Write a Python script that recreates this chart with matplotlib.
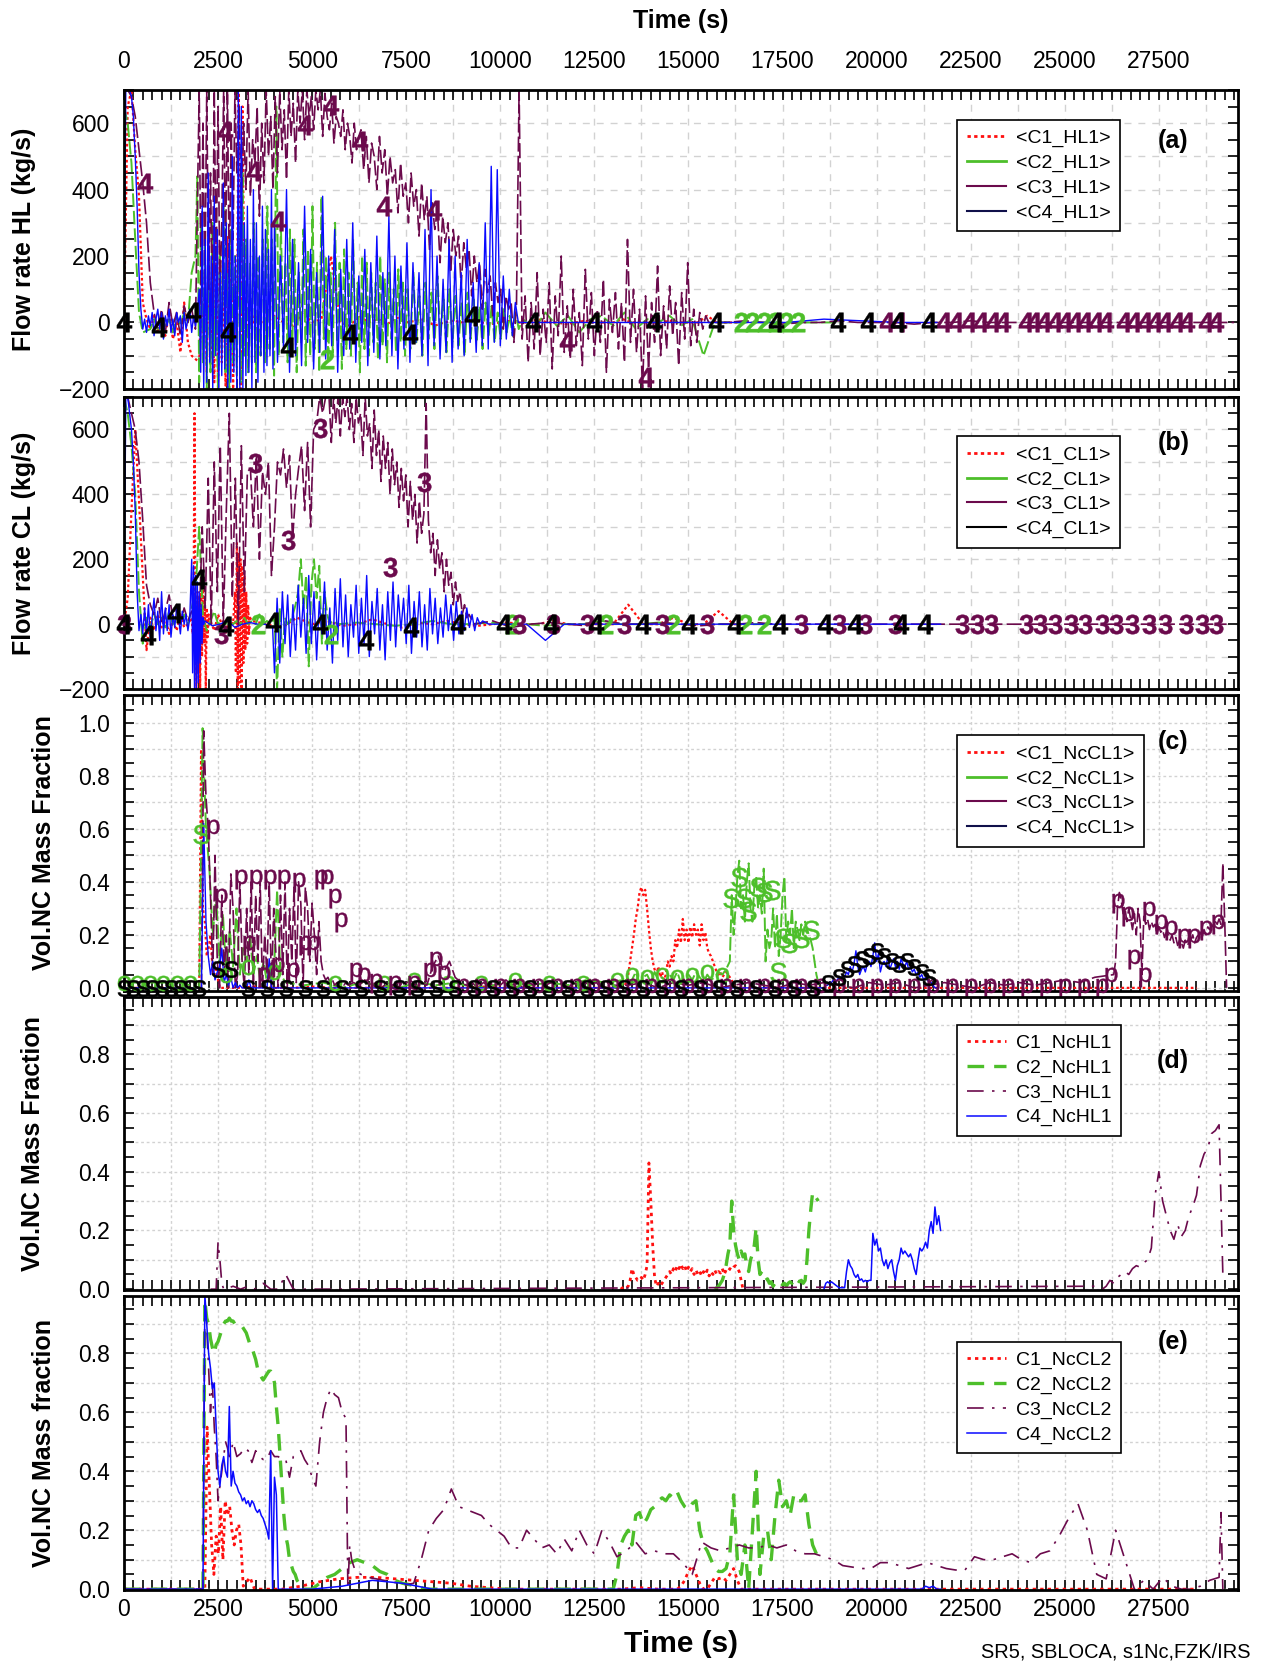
import numpy as np
import matplotlib.pyplot as plt
from matplotlib.lines import Line2D
from matplotlib.ticker import MultipleLocator, FuncFormatter

plt.rcParams['font.family'] = ['Liberation Sans', 'DejaVu Sans']
plt.rcParams['mathtext.fontset'] = 'custom'
plt.rcParams['mathtext.rm'] = 'Liberation Sans'
plt.rcParams['mathtext.bf'] = 'Liberation Sans:bold'

RED, GREEN, PURPLE, BLUE = '#ff1010', '#4dbf2a', '#6b0a4c', '#0a0aff'

# each record: (start time, sample step, sampled values)
# ---- (a) hot leg flow rate, kg/s
HL_C1 = [
    (0, 100, [0, 650, 700, 520, 380, 60, 10, -20, 20, -30, 10, -40, 30, -50, 0, -90, 60, -60, -100]),
    (2000, 50, [-120, 80, -60, 150, -150, 250, -100, 200, -180, 280, -200, 230, -120, 160, -190,
                260, -150, 200, -200, 120, -60, 700, -200, 650, 80, -40, 20, -10, 30, 0]),
    (3500, 250, [10, -5, 20, 0, -10, 30, 0, 10, 200, 0, -10, 20, 0, 10, -5, 15, 0, 5, 10, -10, 0, 5,
                 0, 10, 0, -5, 0, 5, 0, 0, 10, 0, 0, -5, 0, 5, 0, 0, 0, 10, 0, 0, 0, 0, 5, 0, 0, 0,
                 20, 0, 0, 0, 0]),
]
HL_C2 = [
    (0, 100, [650, 600, 480, 250, 30, -30, -25, -20, 10, -20, 20, -10, 10, -30, 20, -10, 30, 0, 150]),
    (1900, 50, [200, 440, -180, 300, -120, 250, -200, 180, -150, 300, -100, 120, -200, 220, -80, 350,
                -150, 150, -200, 280, -120, 200, -160, 300, -180, 450, -100, 250, -150, 180, -120]),
    (3450, 60, [300, -150, 200, -100, 250, -120, 350, -80, 250, -160,
                650, -100, 300, -60, 180, -120, 280, -90, 250, -150,
                150, -60, 280, -130, 220, -100, 350, -80, 180, -150,
                380, -50, 200, -120, 150, -90, 300, -60, 180, -140,
                220, -80, 150, -100, 250, -60, 120, -150, 200, -80,
                180, -100, 150, -60, 120, -110, 200, -70, 130, -120,
                150, -50, 100, -90, 160, -60, 120, -100]),
    (7530, 80, [100, -80, 150, -60, 80, -100, 120, -50, 90, -80, 140, -40, 70, -90, 100, -60, 80, -70,
                60, -100, 90, -50, 70, -60, 50, -80, 60, -40, 50, -60, 30, -50, 40, -30, 20, -40, 30, -20]),
    (10600, 300, [10, -20, 30, -10, 20, -30, 10, 20, -10, 30, -20, 10, 0, 20, -10, 10, -100, 0]),
    (16000, 500, [0, 0, 0, 0, 0, 0, 0]),
]
HL_C3 = [
    (0, 100, [700, 700, 680, 620, 520, 420, 300, 120, 30, -20, 40, -30, 60, -10, 30, -40, 50, 0, 40, -20]),
    (2000, 50, [700, 50, 600, 80, 700, 100, 450, 20, 700, 150, 650, 80, 300, 700, 200, 700, 120, 600, 250, 700]),
    (3000, 60, [450, 650, 350, 600, 400, 700, 380, 550, 480, 650,
                320, 600, 420, 700, 500, 620, 400, 680, 450, 700,
                520, 640, 430, 700, 560, 660, 480, 700, 600, 700,
                550, 700, 620, 680, 580, 700, 640, 700, 560, 690,
                620, 580, 660, 540, 620, 600, 560, 640, 520, 600,
                560, 480, 600, 520, 560]),
    (6300, 70, [580, 460, 560, 420, 540, 500, 400, 560, 450, 520,
                380, 500, 420, 460, 330, 480, 380, 420, 300, 450,
                350, 400, 260, 420, 310, 380, 220, 360, 280, 340,
                180, 320, 240, 300, 150, 280, 200, 260, 110, 240,
                160, 220, 80, 200, 120, 180, 40, 160, 90, 140,
                20, 120, 60, 100, -20, 80, 40, 60, -60, 50]),
    (10500, 80, [700, -50, 80, -120, 60, -80, 150, -100, 40, -60,
                 120, -140, 80, -40, 200, -90, 50, -110, 100, -70,
                 30, -130, 160, -50, 90, -100, 40, -60, 130, -150,
                 70, -30, 90, -80, 60, -120, 250, -60, 100, -90,
                 40, -200, 80, -140, 60, -60, 170, -100, 50, -80,
                 110, -40, 60, -130, 90, -50, 180, -70, 40, -60,
                 30, -20, 20, 0]),
    (16000, 500, [0, 5, 0, -5, 0, 0, 5, 0, 0, 0, -5, 0, 0, 5, 0, 0, 0, 0, 0, 0, 0, 0, 0, 0, 0, 0, 0, 0]),
]
HL_C4 = [
    (0, 50, [0, 700, 700, 700, 680, 620, 500, 350, 150, 40, -20, 10]),
    (600, 50, [-30, 20, -10, 30, -40, 10, 40, -20, 30, -50, 20, -10, 40, -30, 10, -40, 30, 0, 20, -60,
               30, -20, 10, 40, -30, 20, -10, 30]),
    (2000, 40, [100, -150, 350, -200, 250, -180, 450, -120, 200, -200,
                380, -100, 280, -200, 150, -160, 420, -140, 300, -200,
                250, -180, 500, -150, 200, -200, 700, -200, 650, -200,
                300, -160, 350, -150, 250, -200, 400, -120, 300, -180,
                200, -100, 350, -150, 280, -130, 220, -100, 400, -140]),
    (4000, 80, [300, -120, 200, -80, 400, -150, 250, -100, 180, -130,
                350, -60, 220, -140, 150, -90, 380, -110, 200, -70,
                280, -150, 160, -100, 250, -80, 300, -120, 140, -60,
                220, -130, 180, -90, 260, -110, 150, -70, 320, -100,
                200, -140, 170, -80, 240, -120, 180, -60, 150, -100,
                280, -130, 400, -70, 200, -110, 130, -90, 250, -120,
                200, -80, 150, -100, 250, -60, 120, -90, 180, -70,
                300, -80, 470, -60, 460, -70, 140, -50, 100, -40,
                60, 0]),
    (10600, 1000, [0, 0, 0, 0, 0, 0, 0, 0, 10, 5, 0, 0]),
]

# ---- (b) cold leg flow rate, kg/s
CL_C1 = [
    (0, 100, [0, 80, 350, 600, 380, 150, -80, 20, -20, 30, -10, 20, -30, 10, -20, 30, -10, 0]),
    (1800, 25, [20, -30, 10, 650, 0, -200, 100, -150, 80, -200, 100, -100, 150, -60, 80, -200, 50, -40, 30, 0]),
    (2300, 100, [10, -20, 30, 0, -30, 20, 0]),
    (2950, 25, [100, -150, 250, -200, 220, -180, 200, -200, 180, -120, 150, -80, 100, -60, 60, -30, 20]),
    (3400, 400, [10, 0, -10, 20, 0, 10, -5, 0, 15, 0, -10, 5, 0, 10, 0, -5, 0, 5, 0, 0, 10, 0, 0, 0,
                 0, 60, 0, 0, 20, 0, 0, 40, 0, 0]),
]
CL_C2 = [
    (0, 100, [700, 650, 550, 400, 100, -60, 20, -10, 30, 0, 20, -10, 40, 0, 20, 10, 30, 0, 50, 100, 300, 20]),
    (2200, 100, [-20, 10, 40, 0, 10, 0, 20, 0, 10, 0, 20, 0, 10, 0, 30, 0, 10, 0, 20]),
    (4070, 70, [-200, 50, -100, 20, 0, 10, 30, 60, 100, 200, 50, 150, -130, 120, 200, 80, 180, -60,
                100, 30, 0, 10]),
    (5700, 500, [0, 5, 0, -5, 0, 10, 0, 0, 5, 0, 0, -5, 0, 0, 10, 0, 0, 5, 0, 0, 0, 0, 0, 0]),
]
CL_C3 = [
    (0, 100, [700, 700, 650, 600, 500, 320, 120, 60, 30, 80, 0, 40, 90, 20, 60, 0, 50, 10, 40, 20]),
    (2000, 80, [0, 300, 50, 450, 0, 500, 100, 550, 0, 350, 650, 80, 450, 0, 550, 100, 470, 480, 300, 520,
                200, 470, 400, 500, 150, 300, 500, 460, 540, 420, 520, 260, 400, 480, 550, 350, 560, 300,
                600, 620, 700, 650, 700]),
    (5450, 60, [700, 560, 700, 620, 700, 580, 700, 640, 700, 600,
                680, 560, 700, 620, 650, 520, 700, 580, 620, 480,
                660, 520, 600, 440, 580, 480, 560, 400, 540, 430,
                500, 360, 480, 380, 460, 300, 440, 320, 400, 250,
                380, 280, 340, 680, 320, 220, 280, 150, 260, 170,
                220, 100, 200, 120, 160, 60, 130, 70, 100, 30,
                60, 20, 30]),
    (9300, 500, [0, 10, -10, 0, 5, 0, -5, 10, 0, 0, 5, 0, -5, 0, 0, 5, 0, 0, 0, 0, 0, 0, 0, 0, 0, 0,
                 0, 0, 0, 0, 0, 0, 0, 0, 0, 0, 0, 0, 0, 0, 0]),
]
CL_C4 = [
    (0, 50, [0, 700, 700, 650, 600, 500, 350, 100, -20, 30, -30]),
    (550, 50, [50, -30, 60, -40, 20, 80, -20, 40, -50, 100, -30, 50, -20, 60, -40, 30, -10, 50, 20, -30,
               40, 0, 30, -20, 20]),
    (1800, 25, [200, -150, 180, -200, 150, -200, 130, -180, 100, -120, 60, -60, 20, 0]),
    (2150, 200, [10, -5, 0, 10, -10, 0, 5, 0, 0, -10]),
    (4000, 70, [-150, 80, -120, 100, -60, 90, -100, 60, -80, 120,
                -40, 80, -90, 150, -60, 100, -110, 70, -30, 130,
                -80, 50, -120, 110, -50, 140, -70, 90, -100, 60,
                -40, 120, -90, 80, -60, 150, -100, 70, -30, 110,
                -80, 60, -110, 100, -50, 130, -70, 90, -20, 80,
                -60, 120, -90, 70, -40, 100, -70, 60, -80, 110,
                -30, 80, -60, 50, -40, 90, -20, 60, -50, 70,
                -30, 40, -20, 50, -10, 30, -20, 20, 0, 10]),
    (9700, 500, [0, 0, 0, -50, 0, 0, 0, 0, 0, 0, 0, 0, 0, 0, 0, 0, 0, 0, 0, 0, 0, 0, 0, 0, 0]),
]

# ---- (c) non-condensable fraction, cold leg 1
NCCL1_C1 = [
    (0, 500, [0.0, 0.0, 0.0, 0.0, 0.0]),
    (2050, 50, [0.9, 0.3, 0.25, 0.12, 0.15, 0.2, 0.08, 0.05, 0.08, 0.03, 0.0]),
    (3000, 500, [0.0, 0.005, 0.0, 0.0, 0.005, 0.0, 0.0, 0.0, 0.005, 0.0, 0.0, 0.0, 0.0, 0.005, 0.0,
                 0.0, 0.0, 0.0, 0.0, 0.0, 0.0]),
    (13200, 50, [0.0, 0.0, 0.01, 0.02, 0.05, 0.1, 0.15, 0.2, 0.26, 0.3,
                 0.36, 0.38, 0.35, 0.37, 0.3, 0.22, 0.15, 0.1, 0.07, 0.05,
                 0.08, 0.04, 0.06, 0.03, 0.05, 0.1, 0.08, 0.12, 0.1, 0.18,
                 0.15, 0.22, 0.17, 0.26, 0.18, 0.22, 0.17, 0.23, 0.19, 0.24,
                 0.2, 0.22, 0.16, 0.24, 0.18, 0.21, 0.15, 0.13, 0.12, 0.1,
                 0.08, 0.06, 0.05, 0.06, 0.04, 0.05, 0.06, 0.05, 0.04, 0.03,
                 0.01, 0.0]),
    (16500, 1000, [0.0, 0.0, 0.0, 0.0, 0.0, 0.0, 0.0, 0.0, 0.0, 0.0, 0.0, 0.0, 0.0]),
]
NCCL1_C2 = [
    (0, 500, [0.02, 0.02, 0.02, 0.02]),
    (2000, 90, [0.0, 0.98, 0.6, 0.45, 0.2, 0.35, 0.1, 0.28, 0.05, 0.22, 0.08, 0.3, 0.05, 0.15, 0.1,
                0.2, 0.05, 0.12, 0.03, 0.1, 0.02, 0.08, 0.03, 0.37, 0.05]),
    (4300, 500, [0.02, 0.01, 0.02, 0.0, 0.02, 0.01, 0.0, 0.02, 0.01, 0.02, 0.0, 0.01, 0.02, 0.01, 0.02,
                 0.01, 0.03, 0.02, 0.03]),
    (13500, 100, [0.03, 0.06, 0.02, 0.04, 0.05, 0.02, 0.06, 0.03, 0.04, 0.02, 0.05, 0.03, 0.06, 0.02,
                  0.04, 0.05, 0.03, 0.06, 0.04, 0.02, 0.05, 0.03, 0.04, 0.06, 0.05, 0.07]),
    (16100, 50, [0.1, 0.35, 0.2, 0.3, 0.42, 0.48, 0.3, 0.35, 0.25, 0.4, 0.47, 0.3, 0.25, 0.38, 0.42,
                 0.3, 0.35, 0.28, 0.45, 0.1, 0.22, 0.15, 0.18, 0.3, 0.15, 0.28, 0.12, 0.2, 0.35, 0.42,
                 0.18, 0.25, 0.2, 0.3, 0.15, 0.25, 0.22, 0.18, 0.24, 0.2, 0.25, 0.22, 0.2, 0.18, 0.15,
                 0.1, 0.05, 0.02, 0.0, 0.0, 0.0]),
]
NCCL1_C3 = [
    (0, 500, [0.0, 0.0, 0.0, 0.0]),
    (2000, 60, [0.0, 0.0, 0.97, 0.72, 0.6, 0.35, 0.05, 0.5, 0.1, 0.0, 0.35, 0.05, 0.2, 0.0, 0.43, 0.3,
                0.0, 0.05, 0.4, 0.1, 0.0, 0.3, 0.05, 0.4, 0.0, 0.35, 0.1, 0.4, 0.0, 0.2, 0.05, 0.4, 0.0,
                0.3, 0.12, 0.0, 0.35, 0.05, 0.4, 0.0, 0.3, 0.1, 0.38, 0.02, 0.4, 0.32, 0.0, 0.38, 0.3,
                0.1, 0.32, 0.2, 0.05, 0.25, 0.1, 0.05, 0.03, 0.04, 0.02, 0.03, 0.01, 0.02, 0.01, 0.02,
                0.01, 0.02, 0.01]),
    (6100, 150, [0.02, 0.01, 0.03, 0.01, 0.02, 0.0, 0.02, 0.01, 0.02, 0.01, 0.03, 0.01, 0.02, 0.01,
                 0.08, 0.12, 0.06, 0.1, 0.04, 0.02, 0.01, 0.02, 0.0, 0.02, 0.01, 0.02, 0.01, 0.03, 0.01,
                 0.02, 0.0, 0.02, 0.01, 0.02, 0.01, 0.02, 0.01, 0.02, 0.0, 0.02, 0.01, 0.02, 0.01, 0.02,
                 0.0, 0.02, 0.01]),
    (13400, 400, [0.01, 0.02, 0.0, 0.02, 0.01, 0.02, 0.0, 0.01, 0.02, 0.01, 0.0, 0.02, 0.01, 0.02,
                  0.01, 0.0, 0.02, 0.01, 0.02, 0.0, 0.01, 0.02, 0.01, 0.0, 0.02, 0.01, 0.02, 0.01, 0.02,
                  0.03, 0.02, 0.04]),
    (26300, 50, [0.05, 0.1, 0.3, 0.36, 0.33, 0.28, 0.3, 0.25, 0.3, 0.26, 0.22, 0.28, 0.2, 0.3, 0.25,
                 0.05, 0.27, 0.24, 0.26, 0.22, 0.25, 0.23, 0.24, 0.2, 0.23, 0.21, 0.22, 0.19, 0.21, 0.2,
                 0.18, 0.2, 0.17, 0.19, 0.16, 0.18, 0.17, 0.15, 0.18, 0.16, 0.17, 0.18, 0.2, 0.17, 0.19,
                 0.2, 0.21, 0.19, 0.22, 0.2, 0.23, 0.22, 0.24, 0.23, 0.25, 0.24, 0.26, 0.24, 0.47, 0.25,
                 0.0]),
]
NCCL1_C4 = [
    (0, 500, [0.0, 0.0, 0.0, 0.0]),
    (2000, 60, [0.0, 0.0, 0.62, 0.25, 0.12, 0.05, 0.1, 0.03, 0.06, 0.08, 0.15, 0.02, 0.05, 0.01, 0.04,
                0.0, 0.02, 0.0, 0.01, 0.0, 0.0, 0.0, 0.03, 0.0, 0.0, 0.0, 0.0, 0.0, 0.0, 0.0, 0.0, 0.11,
                0.0, 0.0]),
    (4100, 1000, [0.0, 0.0, 0.0, 0.0, 0.0, 0.0, 0.0, 0.0, 0.0, 0.0, 0.0, 0.0, 0.0, 0.0, 0.0]),
    (18600, 50, [0.0, 0.01, 0.01, 0.02, 0.02, 0.03, 0.02, 0.03, 0.04, 0.03, 0.05, 0.04, 0.06, 0.05,
                 0.08, 0.06, 0.09, 0.14, 0.08, 0.05, 0.07, 0.08, 0.06, 0.09, 0.1, 0.08, 0.12, 0.17, 0.1,
                 0.13, 0.06, 0.09, 0.1, 0.08, 0.12, 0.07, 0.09, 0.11, 0.08, 0.1, 0.07, 0.11, 0.09, 0.08,
                 0.1, 0.07, 0.08, 0.06, 0.07, 0.05, 0.06, 0.04, 0.05, 0.03, 0.04, 0.03, 0.02, 0.02, 0.01,
                 0.0, 0.0]),
]

# ---- (d) non-condensable fraction, hot leg 1
NCHL1_C1 = [
    (13200, 50, [0.0, 0.005, 0.01, 0.005, 0.01, 0.03, 0.07, 0.05, 0.04, 0.03, 0.03, 0.04, 0.03, 0.05,
                 0.08, 0.43, 0.3, 0.15, 0.04, 0.01, 0.02, 0.01, 0.02, 0.03, 0.04, 0.05, 0.06, 0.05, 0.07,
                 0.06, 0.08, 0.07, 0.085, 0.07, 0.08, 0.06, 0.075, 0.06, 0.07, 0.05, 0.065, 0.05, 0.06,
                 0.045, 0.06, 0.05, 0.065, 0.045, 0.06, 0.05, 0.065, 0.05, 0.06, 0.055, 0.07, 0.05,
                 0.065, 0.06, 0.07, 0.065, 0.075, 0.08, 0.07, 0.06, 0.03, 0.0, 0.0]),
]
NCHL1_C2 = [
    (15700, 50, [0.0, 0.005, 0.01, 0.02, 0.03, 0.05, 0.08, 0.12, 0.15, 0.3, 0.2, 0.15, 0.12, 0.1, 0.13,
                 0.11, 0.12, 0.08, 0.06, 0.1, 0.12, 0.15, 0.21, 0.1, 0.05, 0.06, 0.04, 0.03, 0.035, 0.02,
                 0.025, 0.01, 0.02, 0.015, 0.01, 0.02, 0.015, 0.02, 0.01, 0.02, 0.025, 0.02, 0.03, 0.02,
                 0.03, 0.025, 0.03, 0.02, 0.03, 0.1, 0.2, 0.27, 0.33, 0.32, 0.31, 0.3]),
]
NCHL1_C3 = [
    (2300, 50, [0.0, 0.0, 0.0, 0.0, 0.16, 0.1, 0.02, 0.0]),
    (2700, 200, [0.0, 0.01, 0.0, 0.01, 0.0, 0.02, 0.0, 0.0, 0.05, 0.0, 0.0, 0.0]),
    (25800, 100, [0.01, 0.005, 0.0, 0.01, 0.03, 0.02, 0.04, 0.05, 0.06, 0.05, 0.07, 0.08, 0.075, 0.09,
                  0.1, 0.14, 0.32, 0.4, 0.3, 0.25, 0.2, 0.17, 0.22, 0.18, 0.2, 0.25, 0.28, 0.32, 0.42,
                  0.46, 0.48, 0.53, 0.54, 0.56, 0.05]),
]
NCHL1_C4 = [
    (18600, 50, [0.0, 0.02, 0.025, 0.02, 0.025, 0.02, 0.015, 0.01, 0.005, 0.005, 0.005, 0.005, 0.06,
                 0.1, 0.08, 0.07, 0.05, 0.04, 0.05, 0.03, 0.035, 0.025, 0.03, 0.025, 0.03, 0.03, 0.19,
                 0.15, 0.17, 0.13, 0.14, 0.1, 0.08, 0.1, 0.07, 0.09, 0.1, 0.06, 0.03, 0.08, 0.1, 0.14,
                 0.12, 0.13, 0.12, 0.11, 0.12, 0.1, 0.07, 0.05, 0.1, 0.14, 0.13, 0.14, 0.16, 0.14, 0.2,
                 0.23, 0.19, 0.28, 0.22, 0.25, 0.2]),
]

# ---- (e) non-condensable fraction, cold leg 2
NCCL2_C1 = [
    (0, 500, [0.0, 0.0, 0.0, 0.0, 0.0]),
    (2150, 60, [0.0, 0.55, 0.35, 0.15, 0.05, 0.18, 0.12, 0.28, 0.1, 0.3, 0.25, 0.28, 0.2, 0.15, 0.2,
                0.22, 0.15, 0.01, 0.02, 0.03, 0.04, 0.02, 0.0]),
    (3700, 500, [0.0, 0.0, 0.01, 0.025, 0.035, 0.04, 0.04, 0.035, 0.03, 0.025, 0.02, 0.01, 0.005, 0.0,
                 0.0, 0.0, 0.0, 0.0, 0.0, 0.0, 0.005, 0.0]),
    (14700, 100, [0.0, 0.01, 0.03, 0.06, 0.08, 0.05, 0.02, 0.0, 0.0, 0.02, 0.04, 0.035, 0.04, 0.03,
                  0.05, 0.07, 0.03, 0.0]),
    (16500, 1000, [0.0, 0.0, 0.0, 0.0, 0.0, 0.0, 0.0, 0.0, 0.0, 0.0, 0.0, 0.0, 0.0]),
]
NCCL2_C2 = [
    (0, 500, [0.0, 0.0, 0.0, 0.0, 0.0]),
    (2100, 50, [0.0, 0.98, 0.92, 0.9, 0.85, 0.82, 0.8, 0.83, 0.84, 0.86, 0.88, 0.9, 0.91, 0.91, 0.92,
                0.91, 0.91, 0.9, 0.9, 0.9, 0.89, 0.89, 0.88, 0.87, 0.85, 0.83, 0.82, 0.8, 0.78, 0.75,
                0.73, 0.72, 0.71, 0.72, 0.73, 0.74, 0.74, 0.73, 0.7, 0.62, 0.55, 0.45, 0.35, 0.25, 0.18,
                0.15, 0.1, 0.08, 0.06, 0.05, 0.03, 0.02, 0.01, 0.0]),
    (5000, 200, [0.0, 0.02, 0.04, 0.05, 0.07, 0.09, 0.1, 0.09, 0.08, 0.06, 0.05, 0.03, 0.02, 0.015, 0.01,
                 0.0]),
    (8200, 1000, [0.0, 0.0, 0.0, 0.0, 0.0]),
    (13000, 100, [0.0, 0.05, 0.15, 0.18, 0.2, 0.15, 0.25, 0.26, 0.22, 0.24, 0.27, 0.28, 0.3, 0.31, 0.3,
                  0.32, 0.31, 0.33, 0.3, 0.28, 0.27, 0.29, 0.3, 0.2, 0.15, 0.13, 0.1, 0.07, 0.06, 0.06,
                  0.07, 0.12, 0.32, 0.1, 0.05, 0.15, 0.0, 0.2, 0.4, 0.05, 0.18, 0.2, 0.1, 0.25, 0.37,
                  0.28, 0.3, 0.25, 0.32, 0.3, 0.3, 0.32, 0.22, 0.15, 0.12]),
]
NCCL2_C3 = [
    (0, 500, [0.0, 0.0, 0.0, 0.0, 0.0]),
    (2100, 50, [0.0, 0.97, 0.9, 0.75, 0.6, 0.7, 0.55, 0.45, 0.3, 0.35, 0.4, 0.45, 0.5, 0.48, 0.45, 0.47]),
    (2900, 100, [0.5, 0.45, 0.46, 0.48, 0.47, 0.43, 0.47, 0.45, 0.44, 0.44, 0.47, 0.45, 0.45, 0.44, 0.44,
                 0.38, 0.45, 0.46, 0.47, 0.44, 0.42, 0.38, 0.35, 0.5, 0.6, 0.65, 0.68, 0.66, 0.65, 0.6,
                 0.58]),
    (5950, 50, [0.0, 0.15, 0.1, 0.08, 0.06]),
    (6300, 200, [0.05, 0.04, 0.035, 0.03, 0.025, 0.02, 0.015, 0.02, 0.1, 0.2, 0.24, 0.27, 0.34, 0.28,
                 0.27, 0.26, 0.25, 0.22, 0.2, 0.18, 0.14, 0.14, 0.2, 0.17, 0.14, 0.15, 0.12, 0.17, 0.13,
                 0.2, 0.15, 0.12, 0.2, 0.16]),
    (13100, 250, [0.11, 0.13, 0.16, 0.12, 0.13, 0.12, 0.12, 0.09, 0.05, 0.16, 0.14, 0.13, 0.14, 0.15,
                  0.14, 0.14, 0.15, 0.14, 0.15, 0.13, 0.12, 0.12, 0.11, 0.1, 0.08, 0.075, 0.07, 0.07,
                  0.09, 0.09, 0.08, 0.07, 0.08, 0.09, 0.08, 0.07, 0.065, 0.065, 0.11, 0.1, 0.1, 0.11,
                  0.12, 0.1, 0.09, 0.12, 0.13, 0.18, 0.24, 0.29, 0.2, 0.05, 0.035, 0.2, 0.1, 0.0, 0.03,
                  0.0, 0.04, 0.01, 0.0, 0.0, 0.01, 0.03, 0.04]),
    (29150, 50, [0.26, 0.0]),
]
NCCL2_C4 = [
    (0, 500, [0.0, 0.0, 0.0, 0.0, 0.0]),
    (2100, 50, [0.0, 1.0, 0.9, 0.8, 0.75, 0.68, 0.7, 0.55, 0.4, 0.35, 0.42, 0.45, 0.4, 0.38, 0.62, 0.35,
                0.4, 0.36, 0.35, 0.33, 0.32, 0.3, 0.31, 0.29, 0.3, 0.28, 0.3, 0.29, 0.27, 0.26, 0.27,
                0.25, 0.24, 0.22, 0.2, 0.17, 0.47, 0.0, 0.38, 0.32, 0.0]),
    (4200, 400, [0.0, 0.0, 0.0, 0.005, 0.01, 0.02, 0.03, 0.025, 0.02, 0.01, 0.0]),
    (21200, 100, [0.0, 0.01, 0.005, 0.01, 0.0, 0.0]),
]

# character symbols the plotting code puts along some curves: (time, value)
HL_C2_MK = [(5400, -110), (16400, 0), (16700, 0), (17000, 0), (17300, 0), (17600, 0), (17900, 0)]
HL_C3_MK = [(560, 420), (2685, 575), (3450, 455), (4100, 305), (4800, 595), (5490, 655), (6270, 545),
            (6920, 350), (8230, 340), (11760, -55), (13860, -165), (20270, 0), (20600, 0), (21800, 0),
            (22120, 0), (22450, 0), (22770, 0), (23100, 0), (23370, 0), (23970, 0), (24190, 0),
            (24460, 0), (24730, 0), (25000, 0), (25270, 0), (25540, 0), (25820, 0), (26090, 0),
            (26580, 0), (26850, 0), (27120, 0), (27390, 0), (27660, 0), (27990, 0), (28260, 0),
            (28750, 0), (29020, 0)]
HL_C4_MK = [(0, 0), (930, -13), (1830, 30), (2760, -29), (4370, -73), (6000, -35), (7610, -35),
            (9240, 19), (10880, 0), (12480, 0), (14090, 0), (15720, 0), (17330, 0), (18970, 0),
            (19780, 0), (20570, 0), (21390, 0)]
CL_C2_MK = [(3550, 0), (5510, -30), (10300, 0), (12800, 0), (14600, 0), (16500, 0), (17000, 0)]
CL_C3_MK = [(0, 0), (2580, -31), (3470, 497), (4370, 258), (5210, 605), (7070, 175), (7975, 437),
            (10500, 0), (11400, 0), (12300, 0), (13300, 0), (14300, 0), (15500, 0), (18000, 0),
            (19000, 0), (19700, 0), (20500, 0), (22280, 0), (22660, 0), (23040, 0), (23970, 0),
            (24350, 0), (24730, 0), (25160, 0), (25540, 0), (25980, 0), (26360, 0), (26790, 0),
            (27230, 0), (27660, 0), (28210, 0), (28640, 0), (29020, 0)]
CL_C4_MK = [(0, 0), (650, -33), (1350, 33), (2000, 140), (2700, -7), (3970, 7), (5210, 0), (6430, -50),
            (7640, -10), (8880, 0), (10090, 0), (11360, 0), (12540, 0), (13780, 0), (15020, 0),
            (16230, 0), (17420, 0), (18630, 0), (19420, 0), (20660, 0), (21280, 0)]
NCCL1_C2_ROW = [(0, 0.02), (350, 0.02), (700, 0.02), (1050, 0.02), (1400, 0.02), (1750, 0.02),
                (2700, 0.05), (3300, 0.08), (4000, 0.06), (5600, 0.02), (6900, 0.02),
                (7700, 0.03), (8600, 0.02), (9500, 0.02), (10400, 0.03), (11300, 0.02), (12200, 0.02),
                (13100, 0.03), (13500, 0.05), (13900, 0.04), (14300, 0.05), (14700, 0.04),
                (15100, 0.05), (15500, 0.06), (15900, 0.05)]
NCCL1_C2_MK = [(2050, 0.58), (16140, 0.34), (16340, 0.42), (16470, 0.34), (16580, 0.29), (16850, 0.38),
               (17010, 0.36), (17230, 0.37), (17390, 0.06), (17500, 0.19), (17660, 0.17),
               (17990, 0.19), (18260, 0.22)]
NCCL1_C3_MK = [(2360, 0.6), (2580, 0.34), (3120, 0.41), (3320, 0.16), (3500, 0.41), (3720, 0.04),
               (3880, 0.41), (4100, 0.08), (4260, 0.41), (4480, 0.06), (4640, 0.4), (4800, 0.16),
               (5020, 0.16), (5240, 0.41), (5400, 0.41), (5620, 0.34), (5780, 0.25), (6160, 0.06),
               (6380, 0.04), (6700, 0.02), (7200, 0.01), (7700, 0.01), (8120, 0.06), (8280, 0.1),
               (8500, 0.05), (9000, 0), (9500, 0), (10000, 0), (10500, 0), (11000, 0), (11500, 0),
               (12000, 0), (12500, 0), (13000, 0), (13500, 0), (14000, 0), (14500, 0), (15000, 0),
               (15500, 0), (16000, 0), (16500, 0), (17000, 0), (17500, 0), (18000, 0), (18500, 0),
               (19000, 0), (19500, 0), (20000, 0), (20500, 0), (21000, 0), (21500, 0), (22000, 0),
               (22500, 0), (23000, 0), (23500, 0), (24000, 0), (24500, 0), (25000, 0), (25500, 0),
               (26000, 0), (26230, 0.04), (26410, 0.32), (26680, 0.27), (26850, 0.11), (27120, 0.04),
               (27230, 0.29), (27560, 0.24), (27830, 0.22), (28160, 0.19), (28430, 0.19),
               (28750, 0.22), (29080, 0.24)]
NCCL1_C4_MK = [(0, 0), (250, 0), (500, 0), (750, 0), (1000, 0), (1250, 0), (1500, 0), (1750, 0),
               (2000, 0), (2500, 0.07), (2850, 0.07), (3300, 0), (3800, 0), (4300, 0), (4800, 0),
               (5300, 0), (5800, 0), (6300, 0), (6800, 0), (7300, 0), (7800, 0), (8300, 0), (8800, 0),
               (9300, 0), (9800, 0), (10300, 0), (10800, 0), (11300, 0), (11800, 0), (12300, 0),
               (12800, 0), (13300, 0), (13800, 0), (14300, 0), (14800, 0), (15300, 0), (15800, 0),
               (16300, 0), (16800, 0), (17300, 0), (17800, 0), (18300, 0), (18700, 0.02),
               (19000, 0.04), (19200, 0.07), (19400, 0.09), (19600, 0.11), (19800, 0.12),
               (20000, 0.14), (20200, 0.12), (20400, 0.1), (20600, 0.09), (20800, 0.1), (21000, 0.08),
               (21200, 0.06), (21400, 0.04)]

STYLE_TOP = [dict(color=RED, lw=1.6, dashes=(1.2, 1.2)),
             dict(color=GREEN, lw=1.4, dashes=(7, 2)),
             dict(color=PURPLE, lw=1.2, dashes=(9, 2.5)),
             dict(color=BLUE, lw=1.0)]
STYLE_LOW = [dict(color=RED, lw=2.0, dashes=(1.2, 1.5)),
             dict(color=GREEN, lw=2.4, dashes=(5, 3)),
             dict(color=PURPLE, lw=1.2, dashes=(10, 5, 1.5, 5)),
             dict(color=BLUE, lw=1.1)]


def expand(records):
    t, v = [], []
    for t0, dt, vals in records:
        t.extend(t0 + dt * np.arange(len(vals)))
        v.extend(vals)
    return np.array(t), np.array(v)


def marks(ax, pts, ch, color, bold=True, ms=14):
    t, v = zip(*pts)
    sym = r'$\mathbf{%s}$' % ch if bold else r'$\mathrm{%s}$' % ch
    ax.plot(t, v, ls='none', marker=sym, ms=ms, mew=0.3,
            color=color, clip_on=False, zorder=6)


def xfmt(x, pos):
    return '%d' % round(x) if abs(x / 2500 - round(x / 2500)) < 1e-6 else ''


def flow_fmt(y, pos):
    return ('%d' % round(y)).replace('-', '\u2212') if abs(y / 200 - round(y / 200)) < 1e-6 else ''


def frac_fmt(top):
    def f(y, pos):
        if abs(y / 0.2 - round(y / 0.2)) < 1e-6 and y <= top + 1e-9:
            return '%.1f' % (round(y * 10) / 10 + 0.0)
        return ''
    return f


fig = plt.figure(figsize=(12.66, 16.62), dpi=100)
L, W = 0.0979, 0.8799
rects = [(0.7660, 0.1799), (0.5854, 0.1757), (0.4037, 0.1781), (0.2238, 0.1763), (0.0433, 0.1769)]
axes = [fig.add_axes([L, b, W, h]) for b, h in rects]

panels = [
    dict(series=[HL_C1, HL_C2, HL_C3, HL_C4], styles=STYLE_TOP,
         labels=['<C1_HL1>', '<C2_HL1>', '<C3_HL1>', '<C4_HL1>'],
         ylabel='Flow rate HL (kg/s)', ylim=(-200, 700), major=100, minor=50, fmt=flow_fmt,
         lx=-0.079, leg_y=0.90, tag='(a)', tag_y=0.83, grid=(5, 5), c4='#10104a'),
    dict(series=[CL_C1, CL_C2, CL_C3, CL_C4], styles=STYLE_TOP,
         labels=['<C1_CL1>', '<C2_CL1>', '<C3_CL1>', '<C4_CL1>'],
         ylabel='Flow rate CL (kg/s)', ylim=(-200, 700), major=100, minor=50, fmt=flow_fmt,
         lx=-0.079, leg_y=0.866, tag='(b)', tag_y=0.844, grid=(5, 5), c4='black'),
    dict(series=[NCCL1_C1, NCCL1_C2, NCCL1_C3, NCCL1_C4], styles=STYLE_TOP,
         labels=['<C1_NcCL1>', '<C2_NcCL1>', '<C3_NcCL1>', '<C4_NcCL1>'],
         ylabel='Vol.NC Mass Fraction', ylim=(-0.012, 1.105), major=0.1, minor=0.05,
         fmt=frac_fmt(1.0), lx=-0.061, leg_y=0.864, tag='(c)', tag_y=0.84, grid=(2, 2), c4='#10104a'),
    dict(series=[NCHL1_C1, NCHL1_C2, NCHL1_C3, NCHL1_C4], styles=STYLE_LOW,
         labels=['C1_NcHL1', 'C2_NcHL1', 'C3_NcHL1', 'C4_NcHL1'],
         ylabel='Vol.NC Mass Fraction', ylim=(-0.003, 0.995), major=0.1, minor=0.05,
         fmt=frac_fmt(0.8), lx=-0.071, leg_y=0.906, tag='(d)', tag_y=0.783, grid=(2, 2), c4=None),
    dict(series=[NCCL2_C1, NCCL2_C2, NCCL2_C3, NCCL2_C4], styles=STYLE_LOW,
         labels=['C1_NcCL2', 'C2_NcCL2', 'C3_NcCL2', 'C4_NcCL2'],
         ylabel='Vol.NC Mass fraction', ylim=(-0.003, 0.995), major=0.1, minor=0.05,
         fmt=frac_fmt(0.8), lx=-0.061, leg_y=0.845, tag='(e)', tag_y=0.842, grid=(2, 2), c4=None),
]

for i, (ax, p) in enumerate(zip(axes, panels)):
    for recs, st in zip(p['series'], p['styles']):
        t, v = expand(recs)
        ax.plot(t, v, **st)

    ax.set_xlim(0, 29600)
    ax.set_ylim(*p['ylim'])
    ax.xaxis.set_major_locator(MultipleLocator(1250))
    ax.xaxis.set_minor_locator(MultipleLocator(250))
    ax.yaxis.set_major_locator(MultipleLocator(p['major']))
    ax.yaxis.set_minor_locator(MultipleLocator(p['minor']))
    ax.xaxis.set_major_formatter(FuncFormatter(xfmt))
    ax.yaxis.set_major_formatter(FuncFormatter(p['fmt']))
    ax.tick_params(which='both', direction='in', top=True, right=True, length=7, width=1.2,
                   labelsize=16.5)
    ax.tick_params(axis='y', pad=10)
    ax.tick_params(axis='x', labelbottom=(i == 4), labeltop=(i == 0), pad=12 if i == 0 else 6)
    ax.grid(True, which='major', color='#d2d2d2', lw=1.0, dashes=p['grid'])
    ax.set_axisbelow(True)
    for s in ax.spines.values():
        s.set_linewidth(2)

    ax.set_ylabel(p['ylabel'], fontsize=18, fontweight='bold')
    ax.yaxis.set_label_coords(p['lx'], 0.5)

    if p['c4'] is not None:
        handles = [Line2D([], [], color=RED, lw=2, dashes=(1.2, 1.2)),
                   Line2D([], [], color=GREEN, lw=2),
                   Line2D([], [], color=PURPLE, lw=1.5),
                   Line2D([], [], color=p['c4'], lw=1.5)]
    else:
        handles = [Line2D([], [], **st) for st in p['styles']]
    leg = ax.legend(handles, p['labels'], loc='upper left', bbox_to_anchor=(0.748, p['leg_y']),
                    fontsize=14, frameon=True, fancybox=False, edgecolor='black', framealpha=1,
                    borderpad=0.5, labelspacing=0.36, handlelength=2.0, handletextpad=0.5,
                    borderaxespad=0)
    leg.get_frame().set_linewidth(1.2)
    ax.text(0.942, p['tag_y'], p['tag'], transform=ax.transAxes, fontsize=18, fontweight='bold',
            ha='center', va='center')

# curve symbols
marks(axes[0], HL_C2_MK, '2', GREEN)
marks(axes[0], HL_C3_MK, '4', PURPLE)
marks(axes[0], HL_C4_MK, '4', 'black')
marks(axes[1], CL_C2_MK, '2', GREEN)
marks(axes[1], CL_C3_MK, '3', PURPLE)
marks(axes[1], CL_C4_MK, '4', 'black')
marks(axes[2], NCCL1_C2_ROW, 'o', GREEN, bold=False, ms=11)
marks(axes[2], NCCL1_C2_MK, 'S', GREEN, bold=False)
marks(axes[2], NCCL1_C3_MK, 'p', PURPLE, bold=False)
marks(axes[2], NCCL1_C4_MK, 's', 'black', bold=False, ms=12)

axes[0].xaxis.set_label_position('top')
axes[0].set_xlabel('Time (s)', fontsize=18, fontweight='bold', labelpad=16)
axes[4].set_xlabel('Time (s)', fontsize=21.5, fontweight='bold', labelpad=6)

fig.text(0.988, 0.006, 'SR5, SBLOCA, s1Nc,FZK/IRS', fontsize=14.4, ha='right', va='center')

fig.savefig('out.png', dpi=100)
